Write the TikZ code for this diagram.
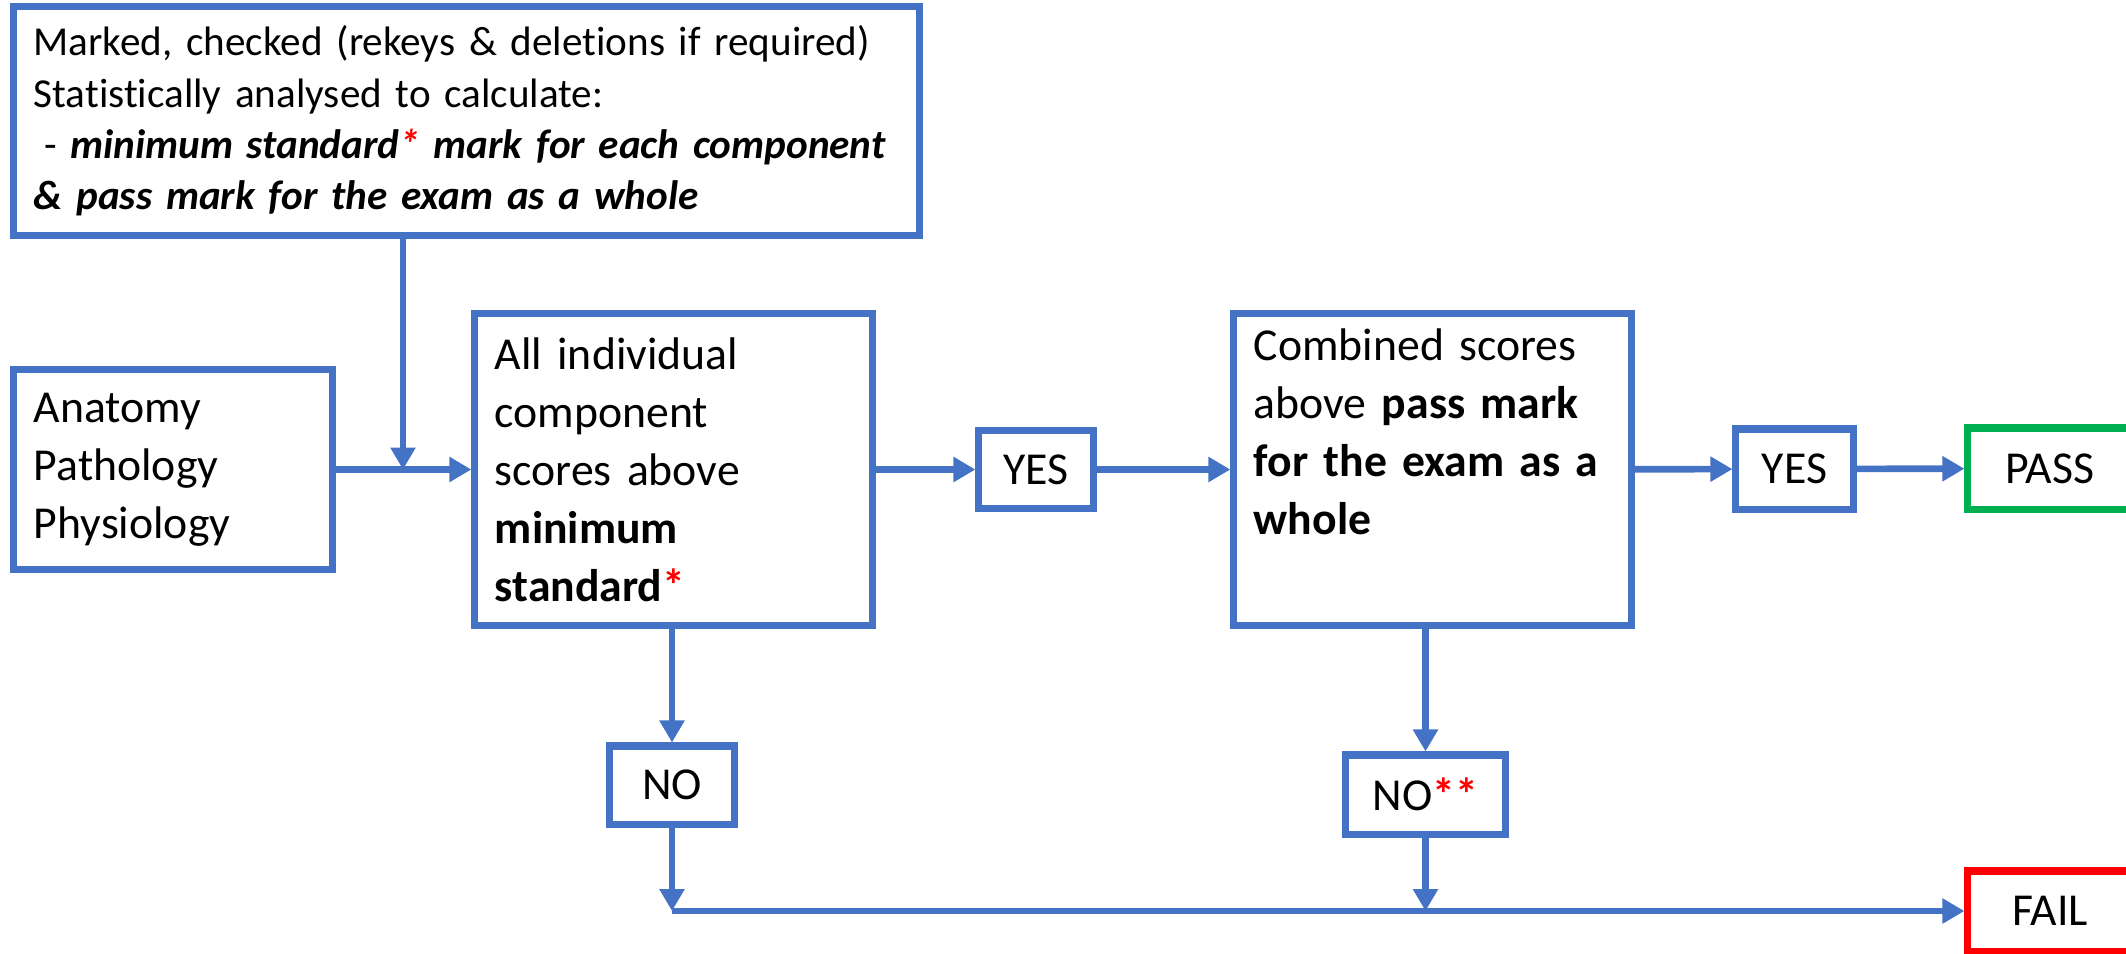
\documentclass[tikz,border=0pt]{standalone}
\usepackage{fontspec}
\setmainfont{Carlito}[Ligatures=NoCommon]
\usetikzlibrary{arrows.meta}
\definecolor{boxblue}{HTML}{4472C4}
\definecolor{passgreen}{HTML}{00B050}
\definecolor{failred}{HTML}{FF0000}
\tikzset{
	box/.style={draw=boxblue,line width=2pt,fill=white,inner xsep=0.2cm,inner ysep=0pt,align=left,font=\fontsize{13}{16.5}\selectfont},
	tag/.style={draw=boxblue,line width=2pt,fill=white,inner sep=0pt,align=center,font=\fontsize{13}{16.5}\selectfont},
	flow/.style={boxblue,line width=1.9pt,-{Triangle[length=0.22cm,width=0.24cm]}}
}
\begin{document}
\begin{tikzpicture}[x=0.01cm,y=-0.01cm]
	\useasboundingbox (0,0) rectangle (2126,953);
	% boxes
	\node[box,text width=8.65cm,minimum height=2.28cm,font=\fontsize{11.7}{14.6}\selectfont] (mark) at (466.5,121) {Marked, checked (rekeys \& deletions if required)\\Statistically analysed to calculate:\\\hspace{0.25em}- \textbf{\textit{minimum standard\textcolor{failred}{*} mark for each component}}\\\textbf{\textit{\& pass mark for the exam as a whole}}};
	\node[box,text width=2.78cm,minimum height=1.99cm] (anat) at (173,469.5) {Anatomy\\Pathology\\Physiology};
	\node[box,text width=3.57cm,minimum height=3.11cm] (minstd) at (673.5,469.5) {All individual\\component\\scores above\\\textbf{minimum}\\\textbf{standard\textcolor{failred}{*}}};
	\node[box,text width=3.57cm,minimum height=3.11cm] (combined) at (1432.5,469.5) {Combined scores\\above \textbf{pass mark}\\\textbf{for the exam as a}\\\textbf{whole}\\\strut};
	\node[tag,minimum width=1.14cm,minimum height=0.78cm] (yes1) at (1036,469.5) {YES};
	\node[tag,minimum width=1.17cm,minimum height=0.80cm] (yes2) at (1794.5,469) {YES};
	\node[tag,draw=passgreen,minimum width=1.64cm,minimum height=0.81cm] (pass) at (2050,468.5) {PASS};
	\node[tag,minimum width=1.24cm,minimum height=0.78cm] (no1) at (672,785) {NO};
	\node[tag,minimum width=1.59cm,minimum height=0.79cm] (no2) at (1425.5,794.5) {NO\textcolor{failred}{\textbf{**}}};
	\node[tag,draw=failred,minimum width=1.64cm,minimum height=0.80cm] (fail) at (2050,911) {FAIL};
	% arrows
	\coordinate (join) at (403,469.5);
	\coordinate (merge1) at (no1 |- fail);
	\coordinate (merge2) at (no2 |- fail);
	\draw[flow] (mark.south -| join) -- (join);
	\draw[flow] (anat) -- (minstd);
	\draw[flow] (minstd) -- (yes1);
	\draw[flow] (yes1) -- (combined);
	\draw[flow] (combined) -- (yes2);
	\draw[flow] (yes2) -- (pass);
	\draw[flow] (minstd.south -| no1) -- (no1);
	\draw[flow] (combined.south -| no2) -- (no2);
	\draw[flow] (no1) -- (merge1);
	\draw[flow] (no2) -- (merge2);
	\draw[flow] (merge1) -- (fail);
\end{tikzpicture}
\end{document}
